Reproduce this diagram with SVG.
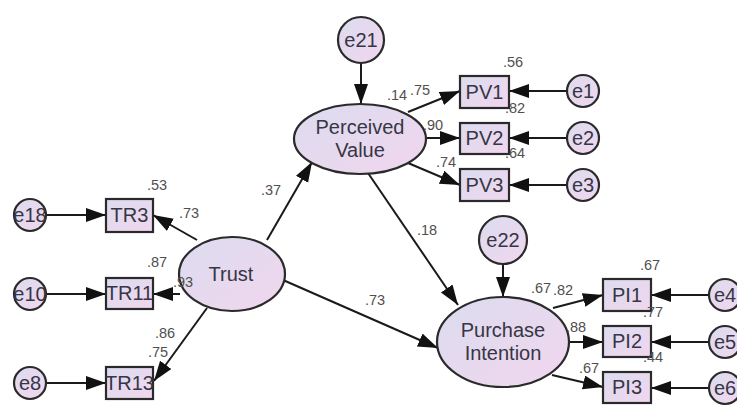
<svg xmlns="http://www.w3.org/2000/svg" width="737" height="406" viewBox="0 0 737 406">
<defs>
<linearGradient id="g" x1="0" y1="0" x2="1" y2="1">
<stop offset="0" stop-color="#dcdcef"/>
<stop offset="1" stop-color="#f1d6ee"/>
</linearGradient>
<marker id="ah" markerUnits="userSpaceOnUse" markerWidth="22" markerHeight="16" refX="20" refY="7" orient="auto">
<path d="M0,0 L20,7 L0,14 Z" fill="#111"/>
</marker>
<style>
.n{fill:url(#g);stroke:#2a2a2a;stroke-width:2.2}
.t{font-family:"Liberation Sans",Arial,sans-serif;font-size:20px;fill:#363645;text-anchor:middle}
.l{font-family:"Liberation Sans",Arial,sans-serif;font-size:14.5px;fill:#505050}
.c{stroke:#1a1a1a;stroke-width:2;fill:none;marker-end:url(#ah)}
</style>
</defs>
<rect width="737" height="406" fill="#fff"/>
<g id="connectors">
<line class="c" x1="361" y1="63" x2="361" y2="104"/>
<line class="c" x1="408" y1="112" x2="460" y2="91"/>
<line class="c" x1="427" y1="138" x2="460" y2="138"/>
<line class="c" x1="408" y1="163" x2="460" y2="185"/>
<line class="c" x1="567" y1="91" x2="509" y2="91"/>
<line class="c" x1="567" y1="138" x2="509" y2="138"/>
<line class="c" x1="567" y1="185" x2="509" y2="185"/>
<line class="c" x1="197" y1="240" x2="153" y2="215"/>
<line class="c" x1="180" y1="294" x2="153" y2="294"/>
<line class="c" x1="207" y1="308" x2="154" y2="381"/>
<line class="c" x1="47" y1="215" x2="106" y2="215"/>
<line class="c" x1="47" y1="294" x2="106" y2="294"/>
<line class="c" x1="47" y1="383" x2="106" y2="383"/>
<line class="c" x1="267" y1="240" x2="312" y2="162"/>
<line class="c" x1="368" y1="173" x2="458" y2="305"/>
<line class="c" x1="283" y1="280" x2="438" y2="348"/>
<line class="c" x1="503" y1="264" x2="503" y2="297"/>
<line class="c" x1="553" y1="308" x2="603" y2="295"/>
<line class="c" x1="569" y1="342" x2="603" y2="342"/>
<line class="c" x1="552" y1="375" x2="603" y2="387"/>
<line class="c" x1="709" y1="295" x2="651" y2="295"/>
<line class="c" x1="709" y1="342" x2="651" y2="342"/>
<line class="c" x1="709" y1="388" x2="651" y2="388"/>
</g>
<g id="e21"><circle class="n" cx="361" cy="40" r="23"/><text class="t" x="361" y="47">e21</text></g>
<g id="PerceivedValue"><ellipse class="n" cx="360" cy="139" rx="66" ry="35"/><text class="t" x="360" y="134">Perceived</text><text class="t" x="360" y="157">Value</text></g>
<g id="PV1"><rect class="n" x="460" y="76" width="49" height="32"/><text class="t" x="484.5" y="99">PV1</text></g>
<g id="PV2"><rect class="n" x="460" y="123" width="49" height="31"/><text class="t" x="484.5" y="145">PV2</text></g>
<g id="PV3"><rect class="n" x="460" y="169" width="49" height="32"/><text class="t" x="484.5" y="192">PV3</text></g>
<g id="e1"><circle class="n" cx="583" cy="91" r="16"/><text class="t" x="583" y="98">e1</text></g>
<g id="e2"><circle class="n" cx="583" cy="138" r="16"/><text class="t" x="583" y="145">e2</text></g>
<g id="e3"><circle class="n" cx="583" cy="185" r="16"/><text class="t" x="583" y="192">e3</text></g>
<g id="Trust"><ellipse class="n" cx="232" cy="274" rx="53" ry="37"/><text class="t" x="231" y="281">Trust</text></g>
<g id="TR3"><rect class="n" x="106" y="199" width="47" height="33"/><text class="t" x="129.5" y="222">TR3</text></g>
<g id="TR11"><rect class="n" x="106" y="278" width="47" height="31"/><text class="t" x="129.5" y="300">TR11</text></g>
<g id="TR13"><rect class="n" x="106" y="367" width="47" height="32"/><text class="t" x="129.5" y="390">TR13</text></g>
<g id="e18"><circle class="n" cx="30" cy="215" r="16"/><text class="t" x="30" y="222">e18</text></g>
<g id="e10"><circle class="n" cx="30" cy="294" r="16"/><text class="t" x="30" y="301">e10</text></g>
<g id="e8"><circle class="n" cx="30" cy="383" r="16"/><text class="t" x="30" y="390">e8</text></g>
<g id="PurchaseIntention"><ellipse class="n" cx="503" cy="342" rx="66" ry="45"/><text class="t" x="503" y="337">Purchase</text><text class="t" x="503" y="360">Intention</text></g>
<g id="e22"><circle class="n" cx="503" cy="240" r="24"/><text class="t" x="503" y="247">e22</text></g>
<g id="PI1"><rect class="n" x="603" y="279" width="48" height="32"/><text class="t" x="627" y="302">PI1</text></g>
<g id="PI2"><rect class="n" x="603" y="326" width="48" height="31"/><text class="t" x="627" y="348">PI2</text></g>
<g id="PI3"><rect class="n" x="603" y="372" width="48" height="31"/><text class="t" x="627" y="394">PI3</text></g>
<g id="e4"><circle class="n" cx="725" cy="295" r="16"/><text class="t" x="725" y="302">e4</text></g>
<g id="e5"><circle class="n" cx="725" cy="342" r="16"/><text class="t" x="725" y="349">e5</text></g>
<g id="e6"><circle class="n" cx="725" cy="388" r="16"/><text class="t" x="725" y="395">e6</text></g>
<g id="labels">
<text class="l" x="503" y="67">.56</text>
<text class="l" x="387" y="100">.14</text>
<text class="l" x="410" y="95">.75</text>
<text class="l" x="505" y="113">.82</text>
<text class="l" x="423" y="130">.90</text>
<text class="l" x="505" y="158">.64</text>
<text class="l" x="436" y="167">.74</text>
<text class="l" x="147" y="190">.53</text>
<text class="l" x="179" y="218">.73</text>
<text class="l" x="147" y="267">.87</text>
<text class="l" x="173" y="287">.93</text>
<text class="l" x="155" y="338">.86</text>
<text class="l" x="148" y="357">.75</text>
<text class="l" x="261" y="195">.37</text>
<text class="l" x="417" y="235">.18</text>
<text class="l" x="365" y="305">.73</text>
<text class="l" x="640" y="270">.67</text>
<text class="l" x="531" y="293">.67</text>
<text class="l" x="553" y="295">.82</text>
<text class="l" x="643" y="317">.77</text>
<text class="l" x="566" y="332">.88</text>
<text class="l" x="643" y="362">.44</text>
<text class="l" x="579" y="373">.67</text>
</g>
</svg>
